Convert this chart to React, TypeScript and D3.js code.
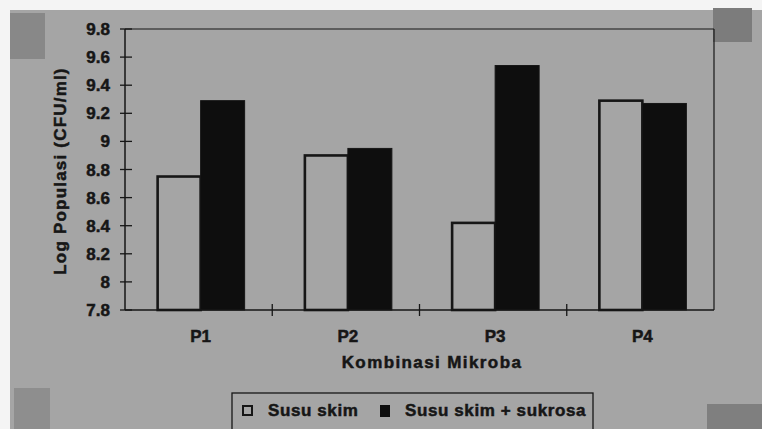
import React from "react";
import * as d3 from "d3";

const categories = ["P1", "P2", "P3", "P4"];
const seriesNames = ["Susu skim", "Susu skim + sukrosa"];
const susuSkim = [8.75, 8.9, 8.42, 9.29];
const susuSkimSukrosa = [9.29, 8.95, 9.54, 9.27];
const yTicks = [7.8, 8, 8.2, 8.4, 8.6, 8.8, 9, 9.2, 9.4, 9.6, 9.8];

const W = 762;
const H = 429;
const BG = "#a5a5a5";
const INK = "#161616";
const FONT = "'Liberation Sans', Arial, sans-serif";

const textStyle = { stroke: INK, strokeWidth: 0.5 } as const;

export default function App() {
  const left = 125, right = 714, top = 29, bottom = 310;
  const x = d3.scaleBand<string>().domain(categories).range([left, right]).paddingInner(0).paddingOuter(0);
  const y = d3.scaleLinear().domain([7.8, 9.8]).range([bottom, top]);
  const bw = 43;
  const series = [susuSkim, susuSkimSukrosa];

  return (
    <svg width={W} height={H} style={{ position: "absolute", left: 0, top: 0 }} fontFamily={FONT}>
      <rect x={0} y={0} width={W} height={H} fill="#f4f4f4" />
      <rect x={10} y={10} width={W - 10} height={H - 10} fill={BG} />
      {/* tape marks */}
      <rect x={10} y={13} width={35} height={46} fill="#888" />
      <rect x={713} y={8} width={39} height={34} fill="#7c7c7c" />
      <rect x={14} y={388} width={36} height={41} fill="#8e8e8e" />
      <rect x={707} y={404} width={55} height={25} fill="#7f7f7f" />

      {/* plot frame top & right */}
      <line x1={left} x2={right} y1={top} y2={top} stroke={INK} strokeWidth={1.2} />
      <line x1={right} x2={right} y1={top} y2={bottom} stroke={INK} strokeWidth={1.2} />

      {/* bars */}
      {categories.map((c, i) => {
        const cx = (x(c) as number) + x.bandwidth() / 2 + 2;
        return (
          <g key={c}>
            {series.map((s, j) => {
              const bx = cx - bw + j * bw;
              const yy = y(s[i]);
              return j === 0 ? (
                <rect key={j} x={bx} y={yy} width={bw} height={bottom - yy} fill="none" stroke={INK} strokeWidth={2.6} />
              ) : (
                <rect key={j} x={bx} y={yy} width={bw + 1} height={bottom - yy} fill="#0e0e0e" stroke={INK} strokeWidth={1} />
              );
            })}
          </g>
        );
      })}

      {/* y axis */}
      <line x1={left} x2={left} y1={top} y2={bottom} stroke={INK} strokeWidth={1.5} />
      {yTicks.map((t) => (
        <g key={t}>
          <line x1={left - 5} x2={left + 7} y1={y(t)} y2={y(t)} stroke={INK} strokeWidth={1.3} />
          <text x={110} y={y(t) + 6} textAnchor="end" fontSize={17} fontWeight="bold" fill={INK} style={textStyle}>
            {d3.format("")(t)}
          </text>
        </g>
      ))}

      {/* x axis */}
      <line x1={left} x2={right} y1={bottom} y2={bottom} stroke={INK} strokeWidth={1.5} />
      {categories.map((c, i) => (
        <g key={c}>
          {i > 0 && (
            <line x1={x(c)} x2={x(c)} y1={bottom - 6} y2={bottom + 6} stroke={INK} strokeWidth={1.3} />
          )}
          <text x={(x(c) as number) + x.bandwidth() / 2 + 2} y={342} textAnchor="middle" fontSize={17} fontWeight="bold" fill={INK} style={textStyle}>
            {c}
          </text>
        </g>
      ))}
      <text x={432} y={368} textAnchor="middle" fontSize={17} fontWeight="bold" letterSpacing={1.4} fill={INK} style={textStyle}>
        Kombinasi Mikroba
      </text>
      <text transform={`translate(66,171) rotate(-90)`} textAnchor="middle" fontSize={17} fontWeight="bold" letterSpacing={1.2} fill={INK} style={textStyle}>
        Log Populasi (CFU/ml)
      </text>

      {/* legend */}
      <rect x={232} y={393} width={361} height={40} fill="none" stroke={INK} strokeWidth={1.3} />
      <rect x={243} y={406} width={9} height={9} fill="none" stroke={INK} strokeWidth={2} />
      <text x={268} y={416} fontSize={17} fontWeight="bold" letterSpacing={0.6} fill={INK} style={textStyle}>{seriesNames[0]}</text>
      <rect x={380} y={405} width={10} height={12} fill="#0e0e0e" />
      <text x={405} y={416} fontSize={17} fontWeight="bold" letterSpacing={0.6} fill={INK} style={textStyle}>{seriesNames[1]}</text>
    </svg>
  );
}
